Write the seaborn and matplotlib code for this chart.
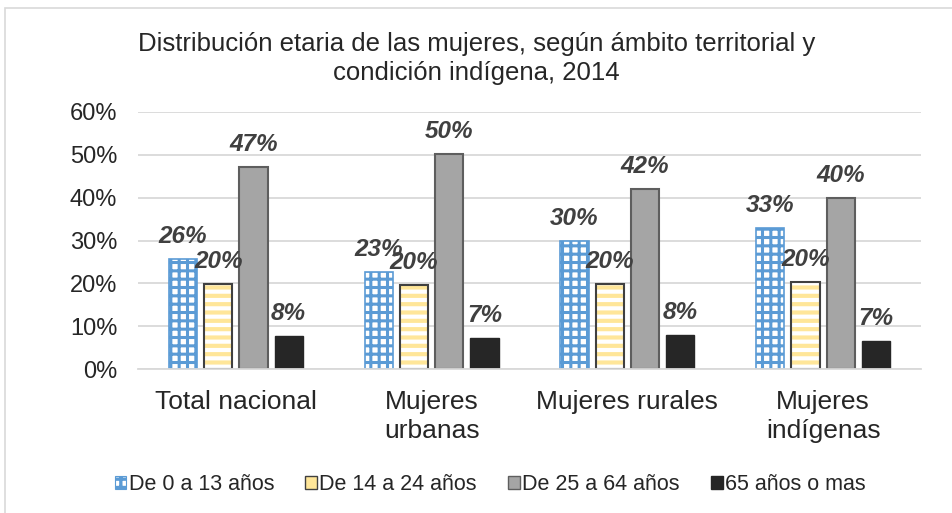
import numpy as np
import pandas as pd
import matplotlib
matplotlib.use("Agg")
import matplotlib.pyplot as plt
from matplotlib.patches import Rectangle, Patch
import seaborn as sns

# data
categories = ['Total nacional', 'Mujeres\nurbanas', 'Mujeres rurales', 'Mujeres\nindígenas']
groups = ['De 0 a 13 años', 'De 14 a 24 años', 'De 25 a 64 años', '65 años o mas']
g_0_13 = [0.256, 0.227, 0.299, 0.329]
g_14_24 = [0.198, 0.196, 0.198, 0.202]
g_25_64 = [0.472, 0.502, 0.420, 0.400]
g_65 = [0.076, 0.072, 0.080, 0.066]

df = pd.DataFrame({
    'cat': categories * 4,
    'grupo': np.repeat(groups, 4),
    'val': g_0_13 + g_14_24 + g_25_64 + g_65,
})

sns.set_style("white")
plt.rcParams['font.family'] = ['Liberation Sans', 'DejaVu Sans']
plt.rcParams['hatch.linewidth'] = 2.4

fig = plt.figure(figsize=(9.53, 5.13), dpi=100)
ax = fig.add_axes([138/953, 1 - 369/513, 783/953, 257/513])

palette = ['#FFFFFF', '#FFFFFF', '#A5A5A5', '#262626']
sns.barplot(data=df, x='cat', y='val', hue='grupo', palette=palette,
            width=0.72, gap=0.2, legend=False, ax=ax, saturation=1)

# per-series styling (hatches, edges)
styles = [
    dict(hatch='++', ec='#5B9BD5', lw=1.2, hlw=2.2),
    dict(hatch='--', ec='#FFE699', lw=0, hlw=3.0),
    dict(hatch=None, ec='#5E5E5E', lw=1.5, hlw=0),
    dict(hatch=None, ec='#262626', lw=1.0, hlw=0),
]
for i, cont in enumerate(ax.containers):
    st = styles[i]
    for p in cont:
        p.set_edgecolor(st['ec'])
        p.set_linewidth(st['lw'])
        if st['hatch']:
            p.set_hatch(st['hatch'])
            if hasattr(p, 'set_hatch_linewidth'):
                p.set_hatch_linewidth(st['hlw'])
        if i == 1:
            ax.add_patch(Rectangle(p.get_xy(), p.get_width(), p.get_height(),
                                   fill=False, ec='#404040', lw=1.5, zorder=p.get_zorder() + 0.1))
    labels = ['{:.0%}'.format(v) for v in cont.datavalues]
    ax.bar_label(cont, labels=labels, padding=8, fontsize=17.5, fontweight='bold',
                 fontstyle='italic', color='#404040')

ax.set_ylim(0, 0.6)
ax.set_yticks(np.arange(0, 0.61, 0.1))
ax.set_yticklabels(['{:.0%}'.format(v) for v in np.arange(0, 0.61, 0.1)], fontsize=17)
ax.yaxis.grid(True, color='#D9D9D9', lw=1.3)
ax.set_axisbelow(True)
ax.tick_params(axis='x', labelsize=19, length=0, pad=15)
ax.tick_params(axis='y', length=0, pad=15)
for t in ax.get_xticklabels():
    t.set_linespacing(1.25)
ax.set_xlabel('')
ax.set_ylabel('')
for s in ['left', 'right', 'top']:
    ax.spines[s].set_visible(False)
ax.spines['bottom'].set_color('#D9D9D9')
ax.spines['bottom'].set_linewidth(1.3)

fig.suptitle('Distribución etaria de las mujeres, según ámbito territorial y\ncondición indígena, 2014',
             y=1 - 32/513, va='top', fontsize=18.5, linespacing=1.25)

handles = [
    Patch(facecolor='#FFFFFF', edgecolor='#5B9BD5', hatch='++', lw=0.8),
    Patch(facecolor='#FFE699', edgecolor='#404040', lw=1.0),
    Patch(facecolor='#A5A5A5', edgecolor='#5E5E5E', lw=1.0),
    Patch(facecolor='#262626', edgecolor='#262626', lw=1.0),
]
fig.legend(handles, groups, loc='center', bbox_to_anchor=(490/953, 1 - 485/513), ncol=4,
           frameon=False, fontsize=15.5, handlelength=0.55, handleheight=0.55,
           handletextpad=0.1, columnspacing=1.45)

# outer chart border
fig.patches.append(Rectangle((5/953, -0.1), 1.2, 1 - 8/513 + 0.1, transform=fig.transFigure,
                             fill=False, ec='#D9D9D9', lw=1.2))

fig.savefig('out.png', dpi=100)
